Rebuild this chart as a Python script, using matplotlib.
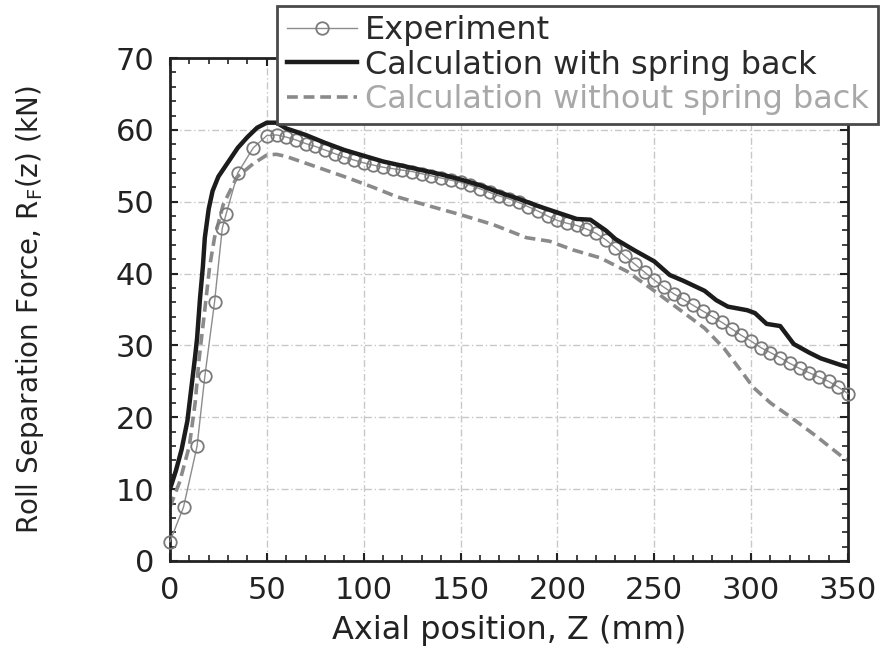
import matplotlib.pyplot as plt
from matplotlib.ticker import MultipleLocator

# measured roll separation force, kN
exp_z = [0, 7, 14, 18, 23, 27, 29, 35, 43,
         50, 55, 60, 65, 70, 75, 80, 85, 90, 95, 100, 105, 110, 115, 120, 125,
         130, 135, 140, 145, 150, 155, 160, 165, 170, 175, 180, 185, 190, 195,
         200, 205, 210, 215, 220, 225, 230, 235, 240, 245, 250, 255, 260, 265,
         270, 275, 280, 285, 290, 295, 300, 305, 310, 315, 320, 325, 330, 335,
         340, 345, 350]
exp_f = [2.7, 7.5, 16.0, 25.7, 36.0, 46.3, 48.3, 54.0, 57.5,
         59.2, 59.3, 59.0, 58.6, 58.1, 57.7, 57.2, 56.7, 56.2, 55.8, 55.4, 55.1, 54.8, 54.6, 54.4, 54.2,
         53.9, 53.6, 53.3, 53.0, 52.7, 52.3, 51.8, 51.3, 50.8, 50.4, 49.9, 49.3, 48.7, 48.0,
         47.4, 47.0, 46.7, 46.2, 45.6, 44.7, 43.6, 42.4, 41.3, 40.2, 39.1, 38.1, 37.2, 36.4,
         35.6, 34.8, 34.0, 33.2, 32.3, 31.4, 30.6, 29.7, 29.0, 28.3, 27.5, 26.8, 26.2, 25.6,
         25.0, 24.2, 23.3]

# calculation with spring back
sb_z = [0, 3, 6, 9, 11, 13, 14, 15.5, 17, 18, 20, 22, 25, 30, 35, 40, 45, 50, 55,
        60, 70, 80, 90, 100, 110, 120, 130, 140, 150, 160, 170, 180, 190, 200,
        210, 217, 225, 230, 240, 250, 258, 265, 276, 282, 288, 298, 302, 308,
        315, 322, 330, 336, 346, 350]
sb_f = [10.0, 12.5, 15.5, 19.5, 24.0, 28.5, 31.0, 36.5, 41.0, 45.0, 49.0, 51.5, 53.5,
        55.5, 57.5, 59.0, 60.3, 61.0, 61.0, 60.2, 59.3, 58.2, 57.2, 56.4, 55.6, 55.0,
        54.4, 53.8, 53.1, 52.3, 51.3, 50.4, 49.4, 48.5, 47.6, 47.5, 46.0, 44.8, 43.2,
        41.7, 39.8, 39.0, 37.6, 36.3, 35.4, 34.9, 34.5, 33.0, 32.7, 30.2, 29.0, 28.2,
        27.3, 27.0]

# calculation without spring back
nsb_z = [0, 5, 10, 13, 15, 18, 20.5, 23, 27.5, 34.5, 43, 50, 55, 60, 74, 91, 105,
         117, 134, 150, 167, 184, 196, 208, 222, 236, 250, 264, 276, 286, 295,
         301, 310, 319, 333, 348, 350]
nsb_f = [7.5, 11.0, 16.0, 22.0, 28.0, 35.0, 41.0, 45.0, 49.6, 53.4, 55.3, 56.5, 56.6,
         56.3, 55.0, 53.4, 52.0, 50.7, 49.4, 48.2, 46.8, 45.0, 44.5, 43.3, 42.2, 40.3,
         37.6, 34.8, 32.4, 29.6, 26.4, 24.2, 22.0, 20.3, 17.5, 14.3, 14.0]

plt.rcParams['font.family'] = ['DejaVu Sans']
plt.rcParams['mathtext.fontset'] = 'dejavusans'

fig = plt.figure(figsize=(8.82, 6.49), dpi=100)
ax = fig.add_axes([0.1927, 0.1356, 0.7687, 0.7750])

ax.plot(exp_z, exp_f, color='#8c8c8c', lw=1.0, marker='o', ms=9, mfc='none',
        mec='#7a7a7a', mew=1.3, clip_on=False, zorder=3, label='Experiment')
ax.plot(sb_z, sb_f, color='#1c1c1c', lw=3.2, zorder=4,
        label='Calculation with spring back')
ax.plot(nsb_z, nsb_f, color='#8a8a8a', lw=2.6, dashes=(3, 1.6), zorder=2,
        label='Calculation without spring back')

ax.set_xlim(0, 350)
ax.set_ylim(0, 70)
ax.xaxis.set_major_locator(MultipleLocator(50))
ax.xaxis.set_minor_locator(MultipleLocator(10))
ax.yaxis.set_major_locator(MultipleLocator(10))
ax.yaxis.set_minor_locator(MultipleLocator(2))

ax.grid(True, which='major', color='#c8c8c8', lw=1.0, ls=(0, (5, 2, 1, 2)))
ax.tick_params(which='both', direction='in', top=True, right=True, colors='#222222')
ax.tick_params(which='major', length=6, width=1.5, labelsize=22, pad=11)
ax.tick_params(which='minor', length=4, width=1.2)
for s in ax.spines.values():
    s.set_linewidth(2)
    s.set_color('#222222')

ax.set_xlabel('Axial position, Z (mm)', fontsize=23, color='#222222', labelpad=7)
ax.set_ylabel(r'Roll Separation Force, R$_\mathrm{F}$(z) (kN)', fontsize=20,
              color='#222222', labelpad=50)

leg = fig.legend(loc='upper left', bbox_to_anchor=(0.314, 0.991), fontsize=23,
                 frameon=True, fancybox=False, framealpha=1, edgecolor='#4a4a4a',
                 handlelength=2.2, handletextpad=0.25, labelspacing=0.1,
                 borderpad=0.3, borderaxespad=0)
leg.get_frame().set_linewidth(2)
leg.set_zorder(10)
for t, c in zip(leg.get_texts(), ['#2a2a2a', '#2a2a2a', '#a8a8a8']):
    t.set_color(c)

fig.savefig('out.png', dpi=100)
